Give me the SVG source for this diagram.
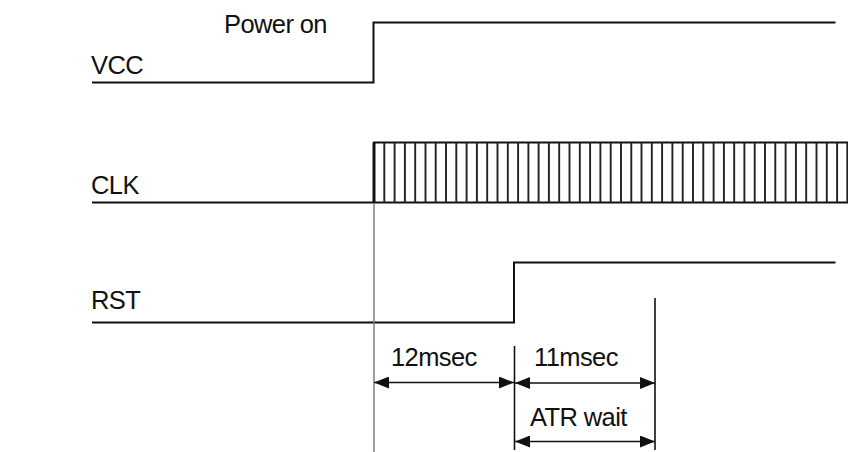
<svg xmlns="http://www.w3.org/2000/svg" width="848" height="452" viewBox="0 0 848 452">
<defs>
<style>
.sig{fill:none;stroke:#111;stroke-width:2}
.clk{stroke:#222;stroke-width:1.9}
.dim{fill:none;stroke:#111;stroke-width:1.6}
.guide{stroke:#777;stroke-width:1.4}
.lbl{font-family:"Liberation Sans",Arial,sans-serif;font-size:25.5px;fill:#111;letter-spacing:-0.6px}
</style>
<marker id="ah" viewBox="0 0 15 12" refX="15" refY="6" markerWidth="15" markerHeight="12" markerUnits="userSpaceOnUse" orient="auto-start-reverse">
<path d="M0,0 L15,6 L0,12 Z" fill="#111"/>
</marker>
</defs>
<rect width="848" height="452" fill="#fff"/>
<g id="labels">
<text class="lbl" x="91" y="74">VCC</text>
<text class="lbl" x="91" y="194">CLK</text>
<text class="lbl" x="91" y="309">RST</text>
<text class="lbl" x="224" y="33">Power on</text>
</g>
<g id="vcc">
<polyline class="sig" points="92,82.5 373.5,82.5 373.5,22.5 835.5,22.5"/>
</g>
<g id="clk">
<polyline class="sig" points="92,202.5 374,202.5"/>
<rect x="374" y="142.5" width="480" height="60" fill="none" stroke="#111" stroke-width="2"/>
<line x1="374" y1="142.5" x2="374" y2="202.5" stroke="#111" stroke-width="3"/>
<path class="clk" d="M384.3,142.5V202.5M394.6,142.5V202.5M404.9,142.5V202.5M415.2,142.5V202.5M425.5,142.5V202.5M435.7,142.5V202.5M446,142.5V202.5M456.3,142.5V202.5M466.6,142.5V202.5M476.9,142.5V202.5M487.2,142.5V202.5M497.5,142.5V202.5M507.8,142.5V202.5M518.1,142.5V202.5M528.4,142.5V202.5M538.6,142.5V202.5M548.9,142.5V202.5M559.2,142.5V202.5M569.5,142.5V202.5M579.8,142.5V202.5M590.1,142.5V202.5M600.4,142.5V202.5M610.7,142.5V202.5M621,142.5V202.5M631.3,142.5V202.5M641.5,142.5V202.5M651.8,142.5V202.5M662.1,142.5V202.5M672.4,142.5V202.5M682.7,142.5V202.5M693,142.5V202.5M703.3,142.5V202.5M713.6,142.5V202.5M723.9,142.5V202.5M734.2,142.5V202.5M744.4,142.5V202.5M754.7,142.5V202.5M765,142.5V202.5M775.3,142.5V202.5M785.6,142.5V202.5M795.9,142.5V202.5M806.2,142.5V202.5M816.5,142.5V202.5M826.8,142.5V202.5M837.1,142.5V202.5M847.3,142.5V202.5"/>
</g>
<g id="rst">
<polyline class="sig" points="92,322.5 514,322.5 514,262.5 835.5,262.5"/>
</g>
<g id="connectors">
<line class="guide" x1="374" y1="203" x2="374" y2="452"/>
<line class="dim" x1="514.5" y1="346" x2="514.5" y2="450"/>
<line class="dim" x1="655" y1="298" x2="655" y2="450"/>
<line class="dim" x1="374" y1="382.5" x2="514" y2="382.5" marker-start="url(#ah)" marker-end="url(#ah)"/>
<line class="dim" x1="515" y1="383" x2="655" y2="383" marker-start="url(#ah)" marker-end="url(#ah)"/>
<line class="dim" x1="515" y1="441.5" x2="655" y2="441.5" marker-start="url(#ah)" marker-end="url(#ah)"/>
</g>
<g id="dim-labels">
<text class="lbl" x="391" y="366">12msec</text>
<text class="lbl" x="534" y="366">11msec</text>
<text class="lbl" x="530" y="426">ATR wait</text>
</g>
</svg>
